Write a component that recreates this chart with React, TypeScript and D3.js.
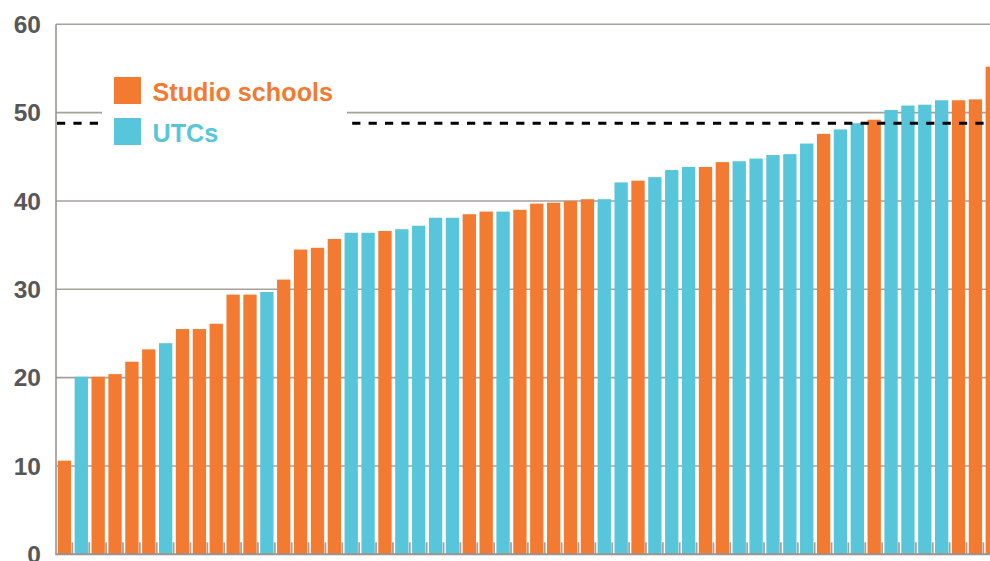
import React from "react";
import * as d3 from "d3";

const schoolTypes: string[] = [
  "Studio", "UTC", "Studio", "Studio", "Studio", "Studio", "UTC", "Studio", "Studio", "Studio",
  "Studio", "Studio", "UTC", "Studio", "Studio", "Studio", "Studio", "UTC", "UTC", "Studio",
  "UTC", "UTC", "UTC", "UTC", "Studio", "Studio", "UTC", "Studio", "Studio", "Studio",
  "Studio", "Studio", "UTC", "UTC", "Studio", "UTC", "UTC", "UTC", "Studio", "Studio",
  "UTC", "UTC", "UTC", "UTC", "UTC", "Studio", "UTC", "UTC", "Studio", "UTC",
  "UTC", "UTC", "UTC", "Studio", "Studio", "Studio",
];

const scores: number[] = [
  10.6, 20.1, 20.1, 20.4, 21.8, 23.2, 23.9, 25.5, 25.5, 26.1,
  29.4, 29.4, 29.7, 31.1, 34.5, 34.7, 35.7, 36.4, 36.4, 36.6,
  36.8, 37.2, 38.1, 38.1, 38.5, 38.8, 38.8, 39.0, 39.7, 39.8,
  40.0, 40.2, 40.2, 42.1, 42.3, 42.7, 43.5, 43.85, 43.85, 44.4,
  44.5, 44.8, 45.2, 45.3, 46.5, 47.6, 48.1, 48.8, 49.2, 50.3,
  50.8, 50.9, 51.4, 51.4, 51.5, 55.2,
];

const yTicks: number[] = [0, 10, 20, 30, 40, 50, 60];
const nationalAverage = 48.8;
const legendLabels: string[] = ["Studio schools", "UTCs"];
const legendKeys: string[] = ["Studio", "UTC"];

const ORANGE = "#F37A31";
const BLUE = "#57C6DA";
const GRID = "#A7A19C";
const AXIS = "#9B948F";
const LABEL = "#575757";

export default function App() {
  const W = 990;
  const H = 561;
  const left = 56;
  const step = 16.87;
  const n = scores.length;

  const x = d3
    .scaleBand<number>()
    .domain(d3.range(n))
    .range([left, left + n * step])
    .paddingInner(0.21)
    .paddingOuter(0.105);

  const y = d3.scaleLinear().domain([0, 60]).range([554.3, 24.3]);
  const color = d3.scaleOrdinal<string, string>().domain(legendKeys).range([ORANGE, BLUE]);

  const boundaries = d3.range(1, n + 1).map((k) => left + k * x.step());
  const font = "'Liberation Sans', Arial, Helvetica, sans-serif";

  return (
    <svg
      width={W}
      height={H}
      style={{ position: "absolute", left: 0, top: 0, background: "#fff" }}
    >
      {/* gridlines */}
      {yTicks
        .filter((t) => t > 0)
        .map((t) => (
          <line
            key={"g" + t}
            x1={left}
            x2={W}
            y1={y(t)}
            y2={y(t)}
            stroke={GRID}
            strokeWidth={1.6}
          />
        ))}

      {/* ticks at band boundaries */}
      {boundaries.map((bx, i) => (
        <line
          key={"t" + i}
          x1={bx - 0.5}
          x2={bx - 0.5}
          y1={y(0) - 12}
          y2={y(0)}
          stroke={GRID}
          strokeWidth={1.8}
        />
      ))}

      {/* bars */}
      {scores.map((v, i) => (
        <rect
          key={"b" + i}
          x={x(i)}
          y={y(v)}
          width={x.bandwidth()}
          height={y(0) - y(v)}
          fill={color(schoolTypes[i])}
        />
      ))}

      {/* axes */}
      <line x1={left} x2={left} y1={y(60)} y2={y(0) + 1} stroke={AXIS} strokeWidth={1.6} />
      <line x1={left} x2={W} y1={y(0)} y2={y(0)} stroke={AXIS} strokeWidth={2} />

      {/* y labels */}
      {yTicks.map((t) => (
        <text
          key={"l" + t}
          x={41}
          y={y(t)}
          dy="0.36em"
          textAnchor="end"
          fontFamily={font}
          fontWeight="bold"
          fontSize={24.5}
          fill={LABEL}
        >
          {t}
        </text>
      ))}

      {/* national average dashed line */}
      <line
        x1={left + 1}
        x2={W}
        y1={y(nationalAverage)}
        y2={y(nationalAverage)}
        stroke="#000"
        strokeWidth={3}
        strokeDasharray="8.2 8.2"
      />

      {/* legend */}
      <rect x={102} y={58} width={245} height={105} fill="#fff" />
      {legendLabels.map((lab, i) => (
        <g key={"lg" + i}>
          <rect
            x={114}
            y={77 + i * 41}
            width={27}
            height={27}
            fill={color(legendKeys[i])}
          />
          <text
            x={152.5}
            y={100.6 + i * 41}
            fontFamily={font}
            fontWeight="bold"
            fontSize={25.2}
            fill={color(legendKeys[i])}
          >
            {lab}
          </text>
        </g>
      ))}
    </svg>
  );
}
